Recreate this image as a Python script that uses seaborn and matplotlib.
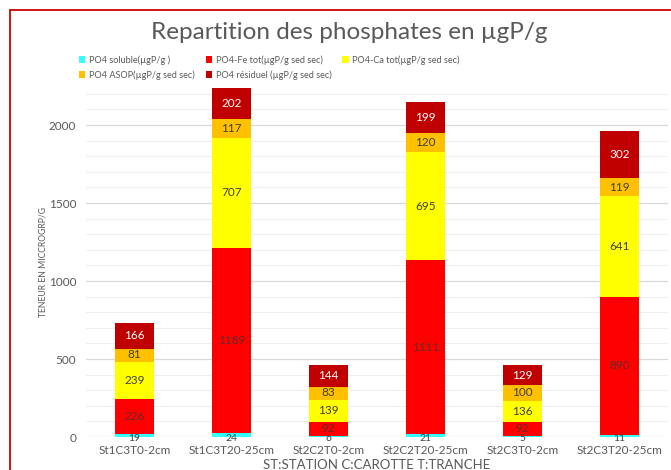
import matplotlib
matplotlib.use("Agg")
import matplotlib.pyplot as plt
import seaborn as sns
import numpy as np
import pandas as pd
from matplotlib.patches import Patch, Rectangle
from matplotlib.ticker import MultipleLocator

categories = ["St1C3T0-2cm", "St1C3T20-25cm", "St2C2T0-2cm", "St2C2T20-25cm", "St2C3T0-2cm", "St2C3T20-25cm"]
soluble = [19, 24, 6, 21, 5, 11]
fe_tot = [226, 1189, 92, 1111, 92, 890]
ca_tot = [239, 707, 139, 695, 136, 641]
asop = [81, 117, 83, 120, 100, 119]
residuel = [166, 202, 144, 199, 129, 302]

series_names = ["PO4 soluble(µgP/g )", "PO4-Fe tot(µgP/g sed sec)", "PO4-Ca tot(µgP/g sed sec)",
                "PO4 ASOP(µgP/g sed sec)", "PO4 résiduel (µgP/g sed sec)"]
series_vals = [soluble, fe_tot, ca_tot, asop, residuel]
colors = ["#33FFFF", "#FF0000", "#FFFF00", "#FFC000", "#C00000"]
label_colors = ["#404040", "#6a2a2a", "#404040", "#404040", "#FFFFFF"]

sns.set_theme(style="white")
plt.rcParams['font.family'] = ['Lato', 'DejaVu Sans']

fig = plt.figure(figsize=(6.71, 4.70), dpi=100)
ax = fig.add_axes([0.128, 0.070, 0.8675, 0.747])

bottom = np.zeros(len(categories))
for name, vals, col in zip(series_names, series_vals, colors):
    df = pd.DataFrame({"cat": categories, "val": vals})
    sns.barplot(data=df, x="cat", y="val", bottom=bottom, color=col, width=0.4,
                ax=ax, saturation=1, errorbar=None, linewidth=0, order=categories)
    bottom = bottom + np.array(vals)

# data labels
cum = np.zeros(len(categories))
for vals, lc in zip(series_vals, label_colors):
    v = np.array(vals)
    for i, val in enumerate(v):
        y = cum[i] + val / 2
        fs = 8.5
        if val < 40:
            y = cum[i] - 12
            fs = 7.5
        elif val < 100:
            y = cum[i] + val / 2 + 6
        ax.text(i, y, f"{val}", ha="center", va="center", fontsize=fs, color=lc)
    cum += v

ax.set_ylim(0, 2250)
ax.set_xlim(-0.5, 5.5)
ax.yaxis.set_major_locator(MultipleLocator(500))
ax.yaxis.set_minor_locator(MultipleLocator(100))
ax.grid(which="major", axis="y", color="#d9d9d9", linewidth=0.9)
ax.grid(which="minor", axis="y", color="#efefef", linewidth=0.8)
ax.set_axisbelow(True)
for s in ax.spines.values():
    s.set_visible(False)
ax.tick_params(axis="both", which="both", length=0, colors="#595959", labelsize=8.5)
ax.tick_params(axis="x", pad=6)
ax.tick_params(axis="y", pad=7)
ax.set_xlabel("ST:STATION C:CAROTTE T:TRANCHE", fontsize=9.5, color="#595959", labelpad=2)
ax.set_ylabel("TENEUR EN MICCROGRP/G", fontsize=6.2, color="#595959", labelpad=1)

fig.text(0.52, 0.93, "Repartition des phosphates en µgP/g", ha="center", va="center",
         fontsize=17.5, color="#595959")

handles = [Patch(facecolor=c, edgecolor="none") for c in colors]
order = [0, 3, 1, 4, 2]
leg = fig.legend([handles[k] for k in order], [series_names[k] for k in order],
                 loc="upper left", bbox_to_anchor=(0.105, 0.9),
                 ncol=3, frameon=False, fontsize=6.6, handlelength=0.7, handleheight=0.7,
                 handletextpad=0.4, columnspacing=1.2, labelspacing=0.6)
for t in leg.get_texts():
    t.set_color("#595959")

fig.patches.append(Rectangle((10 / 671, -0.05), 1.2, 1 - 10 / 470 + 0.05, transform=fig.transFigure,
                             fill=False, edgecolor="#D00000", linewidth=1.3))

fig.savefig("out.png", dpi=100)
